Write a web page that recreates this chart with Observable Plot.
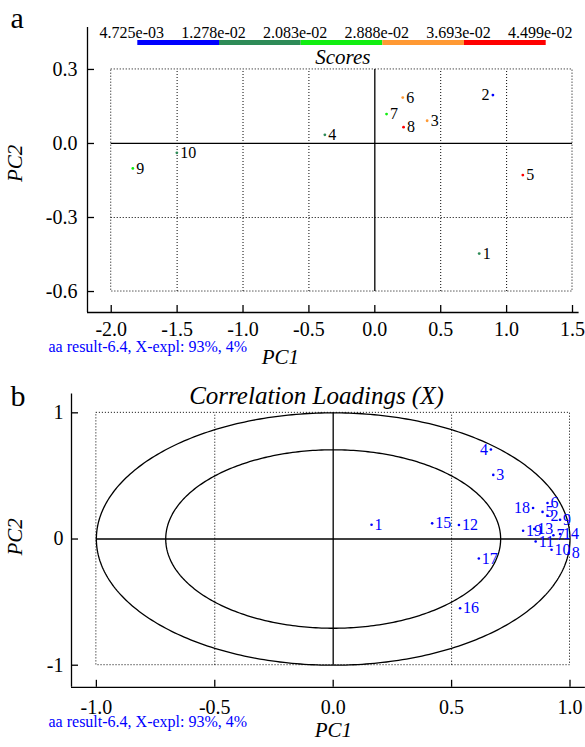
<!DOCTYPE html>
<html><head><meta charset="utf-8">
<script src="https://cdn.jsdelivr.net/npm/d3@7"></script>
<script src="https://cdn.jsdelivr.net/npm/@observablehq/plot@0.6"></script>
<style>
html,body{margin:0;padding:0;background:#fff;}
#root{position:relative;width:585px;height:747px;overflow:hidden;background:#fff;font-family:'Liberation Serif','Times New Roman',Times,serif;}
#root svg, #root svg text{font-family:'Liberation Serif','Times New Roman',Times,serif !important;}
</style></head><body><div id="root"></div>
<script>
// ---------- data ----------
const legendThresholds = [4.725e-3, 1.278e-2, 2.083e-2, 2.888e-2, 3.693e-2, 4.499e-2];
const legendLabels = ["4.725e-03", "1.278e-02", "2.083e-02", "2.888e-02", "3.693e-02", "4.499e-02"];
const legendColors = ["#0000ff", "#2e8b57", "#11ee11", "#ff9933", "#ff0000"];

const scoreIds = ["1", "2", "3", "4", "5", "6", "7", "8", "9", "10"];
const scorePC1 = [0.792, 0.896, 0.397, -0.379, 1.123, 0.212, 0.089, 0.218, -1.836, -1.502];
const scorePC2 = [-0.446, 0.196, 0.092, 0.035, -0.128, 0.186, 0.119, 0.066, -0.101, -0.038];
const scoreValue = [0.016, 0.0050, 0.033, 0.015, 0.044, 0.032, 0.025, 0.040, 0.024, 0.014];

const loadIds = ["1","2","3","4","5","6","7","8","9","10","11","12","13","14","15","16","17","18","19"];
const loadPC1 = [0.162, 0.905, 0.676, 0.666, 0.884, 0.905, 0.930, 0.995, 0.958, 0.922, 0.855, 0.531, 0.849, 0.958, 0.418, 0.536, 0.615, 0.844, 0.802];
const loadPC2 = [0.113, 0.185, 0.508, 0.709, 0.215, 0.285, 0.030, -0.110, 0.153, -0.085, -0.020, 0.111, 0.079, 0.040, 0.124, -0.548, -0.154, 0.246, 0.066];

const xTicksA = [-2.0, -1.5, -1.0, -0.5, 0.0, 0.5, 1.0, 1.5];
const yTicksA = [-0.6, -0.3, 0.0, 0.3];
const xTicksB = [-1.0, -0.5, 0.0, 0.5, 1.0];
const yTicksB = [-1, 0, 1];
const circleRadii = [1, Math.SQRT1_2];

const captionText = "aa result-6.4, X-expl: 93%, 4%";

// ---------- styling ----------
const FONT = "'Liberation Serif', 'Times New Roman', Times, serif";
const baseStyle = {background: "transparent", overflow: "visible", fontFamily: FONT, fontSize: "20px", color: "#000"};
const dotted = {stroke: "#000", strokeWidth: 1, strokeDasharray: "1,2"};
const solid = {stroke: "#000", strokeWidth: 1.3};
const root = document.getElementById("root");

function place(el, top) { el.style.position = "absolute"; el.style.left = "0px"; el.style.top = top + "px"; root.appendChild(el); }

// ---------- legend ----------
const segIdx = d3.range(legendColors.length);
const legend = Plot.plot({
  width: 585, height: 50,
  marginLeft: 137.3, marginRight: 39.3, marginTop: 40, marginBottom: 5,
  x: {domain: [legendThresholds[0], legendThresholds[legendThresholds.length - 1]], axis: null},
  style: baseStyle,
  marks: [
    Plot.rect(segIdx, {x1: i => legendThresholds[i], x2: i => legendThresholds[i + 1], fill: i => legendColors[i]}),
    Plot.text(legendThresholds, {x: d => d, text: (d, i) => legendLabels[i], frameAnchor: "top", lineAnchor: "bottom", dy: -2.5, dx: -6, fontSize: 16, fill: "#000"})
  ]
});
place(legend, 0);

// ---------- panel a: scores ----------
const xDomA = [-2.18, 1.55], yDomA = [-0.685, 0.47];
const sIdx = d3.range(scoreIds.length);
const leftLabelledScores = new Set(["2"]);
const innerXA = xTicksA.slice(1, -1).filter(d => d !== 0);
const innerYA = yTicksA.slice(1, -1).filter(d => d !== 0);

const plotA = Plot.plot({
  width: 585, height: 378,
  marginLeft: 87, marginRight: 6.4, marginTop: 27, marginBottom: 66,
  x: {domain: xDomA}, y: {domain: yDomA},
  color: {type: "threshold", domain: legendThresholds.slice(1, -1), range: legendColors},
  style: baseStyle,
  marks: [
    Plot.rect([0], {x1: xTicksA[0], x2: xTicksA[xTicksA.length - 1], y1: yTicksA[0], y2: yTicksA[yTicksA.length - 1], fill: "none", ...dotted}),
    Plot.ruleX(innerXA, {x: d => d, y1: yTicksA[0], y2: yTicksA[yTicksA.length - 1], ...dotted}),
    Plot.ruleY(innerYA, {y: d => d, x1: xTicksA[0], x2: xTicksA[xTicksA.length - 1], ...dotted}),
    Plot.ruleX([0], {y1: yTicksA[0], y2: yTicksA[yTicksA.length - 1], ...solid}),
    Plot.ruleY([0], {x1: xTicksA[0], x2: xTicksA[xTicksA.length - 1], ...solid}),
    Plot.ruleX([xDomA[0]], {...solid}),
    Plot.ruleY([yDomA[0]], {...solid}),
    Plot.tickX(xTicksA, {x: d => d, insetTop: 285 - 7, ...solid}),
    Plot.tickY(yTicksA, {y: d => d, insetRight: 491.6 - 7, ...solid}),
    Plot.axisX({ticks: xTicksA, tickSize: 0, tickPadding: 9, tickFormat: d => d.toFixed(1), label: null, fontSize: 20, fontFamily: FONT}),
    Plot.axisY({ticks: yTicksA, tickSize: 0, tickPadding: 10, tickFormat: d => d.toFixed(1), label: null, fontSize: 20, fontFamily: FONT}),
    Plot.dot(sIdx, {x: i => scorePC1[i], y: i => scorePC2[i], fill: i => scoreValue[i], r: 1.4, stroke: null}),
    Plot.text(sIdx.filter(i => !leftLabelledScores.has(scoreIds[i])), {x: i => scorePC1[i], y: i => scorePC2[i], text: i => scoreIds[i], textAnchor: "start", dx: 3.5, fontSize: 16, fill: "#000"}),
    Plot.text(sIdx.filter(i => leftLabelledScores.has(scoreIds[i])), {x: i => scorePC1[i], y: i => scorePC2[i], text: i => scoreIds[i], textAnchor: "end", dx: -3.5, fontSize: 16, fill: "#000"}),
    Plot.text(["a"], {text: d => d, frameAnchor: "top-left", textAnchor: "start", lineAnchor: "bottom", dx: -77, dy: 0, fontSize: 30, fill: "#000"}),
    Plot.text(["Scores"], {text: d => d, frameAnchor: "top", lineAnchor: "bottom", dx: 9.5, dy: 36, fontSize: 21, fontStyle: "italic", fill: "#000"}),
    Plot.text(["PC2"], {text: d => d, frameAnchor: "left", rotate: -90, dx: -72, dy: 12, fontSize: 21, fontStyle: "italic", fill: "#000"}),
    Plot.text(["PC1"], {text: d => d, frameAnchor: "bottom", dx: -53, dy: 51, fontSize: 21, fontStyle: "italic", fill: "#000"}),
    Plot.text([captionText], {text: d => d, frameAnchor: "bottom-left", textAnchor: "start", dx: -39, dy: 39, fontSize: 16, fill: "#0000ff"})
  ]
});
place(plotA, 0);

// ---------- panel b: correlation loadings ----------
const xDomB = [-1.105, 1.065], yDomB = [-1.175, 1.15];
const lIdx = d3.range(loadIds.length);
const leftLabelledLoads = new Set(["4", "18"]);
const innerXB = xTicksB.slice(1, -1).filter(d => d !== 0);
const circlePts = circleRadii.flatMap((r, k) => d3.range(0, 361, 1).map(a => ({k, x: r * Math.cos(a * Math.PI / 180), y: r * Math.sin(a * Math.PI / 180)})));

const plotB = Plot.plot({
  width: 585, height: 369,
  marginLeft: 71, marginRight: 0.1, marginTop: 15.4, marginBottom: 60.2,
  x: {domain: xDomB}, y: {domain: yDomB},
  style: baseStyle,
  marks: [
    Plot.rect([0], {x1: xTicksB[0], x2: xTicksB[xTicksB.length - 1], y1: yTicksB[0], y2: yTicksB[yTicksB.length - 1], fill: "none", ...dotted}),
    Plot.ruleX(innerXB, {x: d => d, y1: yTicksB[0], y2: yTicksB[yTicksB.length - 1], ...dotted}),
    Plot.line(circlePts, {x: "x", y: "y", z: "k", ...solid}),
    Plot.ruleX([0], {y1: yTicksB[0], y2: yTicksB[yTicksB.length - 1], ...solid}),
    Plot.ruleY([0], {x1: xTicksB[0], x2: xTicksB[xTicksB.length - 1], ...solid}),
    Plot.ruleX([xDomB[0]], {...solid}),
    Plot.ruleY([yDomB[0]], {...solid}),
    Plot.tickX(xTicksB, {x: d => d, insetTop: 293.4 - 7, ...solid}),
    Plot.tickY(yTicksB, {y: d => d, insetRight: 513.9 - 7, ...solid}),
    Plot.axisX({ticks: xTicksB, tickSize: 0, tickPadding: 12, tickFormat: d => d.toFixed(1), label: null, fontSize: 20, fontFamily: FONT}),
    Plot.axisY({ticks: yTicksB, tickSize: 0, tickPadding: 8, tickFormat: d => String(d), label: null, fontSize: 20, fontFamily: FONT}),
    Plot.dot(lIdx, {x: i => loadPC1[i], y: i => loadPC2[i], fill: "#0000ff", r: 1.3, stroke: null}),
    Plot.text(lIdx.filter(i => !leftLabelledLoads.has(loadIds[i])), {x: i => loadPC1[i], y: i => loadPC2[i], text: i => loadIds[i], textAnchor: "start", dx: 3, fontSize: 16, fill: "#0000ff"}),
    Plot.text(lIdx.filter(i => leftLabelledLoads.has(loadIds[i])), {x: i => loadPC1[i], y: i => loadPC2[i], text: i => loadIds[i], textAnchor: "end", dx: -3, fontSize: 16, fill: "#0000ff"}),
    Plot.text(["b"], {text: d => d, frameAnchor: "top-left", textAnchor: "start", lineAnchor: "bottom", dx: -61, dy: 12, fontSize: 30, fill: "#000"}),
    Plot.text(["Correlation Loadings (X)"], {text: d => d, frameAnchor: "top", lineAnchor: "bottom", dx: -12, dy: 10, fontSize: 25, fontStyle: "italic", fill: "#000"}),
    Plot.text(["PC2"], {text: d => d, frameAnchor: "left", rotate: -90, dx: -56, dy: 15, fontSize: 21, fontStyle: "italic", fill: "#000"}),
    Plot.text(["PC1"], {text: d => d, frameAnchor: "bottom", dx: 5, dy: 50, fontSize: 21, fontStyle: "italic", fill: "#000"}),
    Plot.text([captionText], {text: d => d, frameAnchor: "bottom-left", textAnchor: "start", dx: -23, dy: 40, fontSize: 16, fill: "#0000ff"})
  ]
});
place(plotB, 378);
</script></body></html>
